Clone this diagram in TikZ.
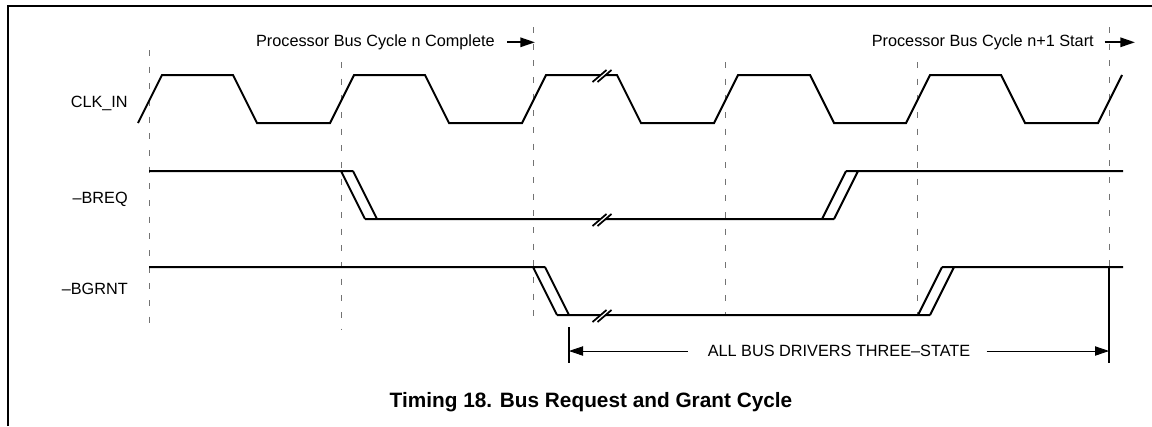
\documentclass[tikz,border=0pt]{standalone}
\usepackage{fontspec}
\setmainfont{Liberation Sans}
\usetikzlibrary{arrows.meta}
\begin{document}
\begin{tikzpicture}[x=0.75pt, y=-0.75pt,
  signal/.style={line width=1.5pt, line cap=butt, line join=miter},
  guide/.style={black!55, line width=0.6pt, dash pattern=on 4.5pt off 8pt},
  pageframe/.style={line width=1.6pt},
  siglabel/.style={font=\fontsize{12.2}{14}\selectfont, inner sep=0pt},
  marker/.style={line width=1.5pt, -{Triangle[length=11pt,width=7pt]}},
  dimline/.style={line width=0.6pt, -{Triangle[length=10.5pt,width=7pt]}},
  bar/.style={line width=1.6pt},
  brk/.pic={
    \fill[white] (-9.5,7) -- (-4.5,7) -- (9.5,-5) -- (4.5,-5) -- cycle;
    \draw[line width=1.3pt] (-9.5,7) -- (4.5,-5) (-4.5,7) -- (9.5,-5);
  }]
\useasboundingbox (0,0) rectangle (1152,426);

% page frame (left and top rules)
\draw[pageframe] (8,426) -- (8,6) -- (1152,6);

% clock-edge reference lines
\foreach \x/\a/\b in {149/50/330, 341/62/330, 533/27/318, 725/62/315, 917/62/315, 1109/27/267}
  \draw[guide] (\x,\a) -- (\x,\b);

% signal names
\node[siglabel, anchor=base east] (clk)  at (128,107) {CLK\_IN};
\node[siglabel, anchor=base east] (breq) at (128,203) {\textendash BREQ};
\node[siglabel, anchor=base east] (bgnt) at (128,294) {\textendash BGRNT};

% CLK_IN
\draw[signal] (138,123) -- (162,75) -- (233,75) -- (257,123) -- (330,123)
  -- (354,75) -- (425,75) -- (449,123) -- (522,123)
  -- (546,75) -- (617,75) -- (641,123) -- (714,123)
  -- (738,75) -- (810,75) -- (834,123) -- (906,123)
  -- (930,75) -- (1001,75) -- (1025,123) -- (1098,123) -- (1122,75);

% -BREQ
\draw[signal] (149,171) -- (353,171)
  (341,171) -- (365,219) (353,171) -- (377,219)
  (365,219) -- (834,219)
  (822,219) -- (846,171) (834,219) -- (858,171)
  (846,171) -- (1123,171);

% -BGRNT
\draw[signal] (149,267) -- (545,267)
  (533,267) -- (557,315) (545,267) -- (569,315)
  (557,315) -- (930,315)
  (918,315) -- (942,267) (930,315) -- (954,267)
  (942,267) -- (1123,267);

% time breaks
\pic at (602,75)  {brk};
\pic at (602,219) {brk};
\pic at (602,315) {brk};

% bus cycle markers
\node[siglabel, anchor=base east] (done)  at (495,46.5)  {Processor Bus Cycle n Complete};
\node[siglabel, anchor=base east] (start) at (1094,46.5) {Processor Bus Cycle n+1 Start};
\coordinate (doneTip)  at (535,41);
\coordinate (startTip) at (1135,41);
\draw[marker] ([xshift=9pt]done.east) -- (done.east -| doneTip);
\draw[marker] ([xshift=8pt]start.east) -- (start.east -| startTip);

% three-state interval
\coordinate (lbTop) at (569,327);
\coordinate (lbBot) at (569,363);
\coordinate (rbTop) at (1109,267);
\coordinate (rbBot) at (1109,363);
\draw[bar] (lbTop) -- (lbBot);
\draw[bar] (rbTop) -- (rbBot);
\node[siglabel] (tri) at (839,351) {ALL BUS DRIVERS THREE\textendash STATE};
\draw[dimline] ([xshift=-15pt]tri.west) -- (tri.west -| lbTop);
\draw[dimline] ([xshift=12pt]tri.east) -- (tri.east -| rbTop);

% caption
\node[font=\bfseries\fontsize{15.6}{18}\selectfont, inner sep=0pt, anchor=base] (title)
  at (591,407) {Timing 18. Bus Request and Grant Cycle};
\end{tikzpicture}
\end{document}
